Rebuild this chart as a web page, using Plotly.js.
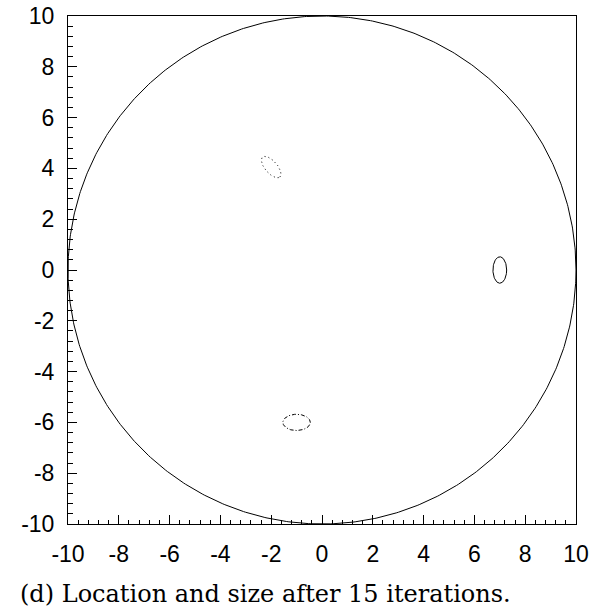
<!DOCTYPE html>
<html>
<head>
<meta charset="utf-8">
<script src="https://cdn.plot.ly/plotly-3.0.1.min.js"></script>
<style>html,body{margin:0;padding:0;background:#fff;}#chart{width:600px;height:612px;}</style>
</head>
<body>
<div id="chart"></div>
<script>
// Tick positions and labels
const tickValues = [-10, -8, -6, -4, -2, 0, 2, 4, 6, 8, 10];
const tickLabels = ["-10", "-8", "-6", "-4", "-2", "0", "2", "4", "6", "8", "10"];

// Boundary circle
const boundaryCenter = [0, 0];
const boundaryRadius = 10;

// Ellipses: centers, semi-axes, rotation (deg)
const ellipseCenterX = [-2.0, 7.0, -1.0];
const ellipseCenterY = [4.05, 0.0, -6.0];
const ellipseSemiA   = [0.52, 0.27, 0.54];   // along rotated x
const ellipseSemiB   = [0.24, 0.52, 0.32];   // along rotated y
const ellipseAngle   = [-49, 0, 0];
const ellipseDash    = ["1px,3px", "solid", "4px,2px,1px,2px"];

const caption = "(d) Location and size after 15 iterations.";

function outline(cx, cy, a, b, angDeg, n) {
  const xs = [], ys = [];
  const t = angDeg * Math.PI / 180;
  for (let i = 0; i <= n; i++) {
    const s = 2 * Math.PI * i / n;
    const ex = a * Math.cos(s), ey = b * Math.sin(s);
    xs.push(cx + ex * Math.cos(t) - ey * Math.sin(t));
    ys.push(cy + ex * Math.sin(t) + ey * Math.cos(t));
  }
  return {xs, ys};
}

const traces = [];
const big = outline(boundaryCenter[0], boundaryCenter[1], boundaryRadius, boundaryRadius, 0, 720);
traces.push({x: big.xs, y: big.ys, mode: 'lines', line: {color: '#000', width: 1}, hoverinfo: 'skip', cliponaxis: false});
for (let k = 0; k < ellipseCenterX.length; k++) {
  const o = outline(ellipseCenterX[k], ellipseCenterY[k], ellipseSemiA[k], ellipseSemiB[k], ellipseAngle[k], 120);
  traces.push({x: o.xs, y: o.ys, mode: 'lines', line: {color: '#000', width: 1, dash: ellipseDash[k]}, hoverinfo: 'skip'});
}

const axisCommon = {
  range: [-10, 10],
  tickvals: tickValues,
  ticktext: tickLabels,
  ticks: 'inside',
  ticklen: 9,
  tickwidth: 1,
  tickcolor: '#000',
  showline: true,
  linecolor: '#000',
  linewidth: 1,
  mirror: true,
  showgrid: false,
  zeroline: false,
  tickfont: {family: 'Liberation Sans, Arial, sans-serif', size: 23, color: '#000'},
  minor: {dtick: 0.4, tick0: -10, ticks: 'inside', ticklen: 4.5, tickwidth: 1, tickcolor: '#000', showgrid: false}
};

const layout = {
  width: 600, height: 612,
  margin: {l: 68, r: 24, t: 16, b: 88, pad: 0},
  paper_bgcolor: '#fff', plot_bgcolor: '#fff',
  showlegend: false,
  xaxis: Object.assign({}, axisCommon, {ticklabelstandoff: 9}),
  yaxis: Object.assign({}, axisCommon, {ticklabelstandoff: 8}),
  annotations: [{
    text: caption, xref: 'paper', yref: 'paper', x: -0.099, y: -0.137,
    xanchor: 'left', yanchor: 'middle', showarrow: false,
    font: {family: 'DejaVu Serif, serif', size: 24, color: '#000'}
  }]
};

Plotly.newPlot('chart', traces, layout, {staticPlot: true, displayModeBar: false});
</script>
</body>
</html>
